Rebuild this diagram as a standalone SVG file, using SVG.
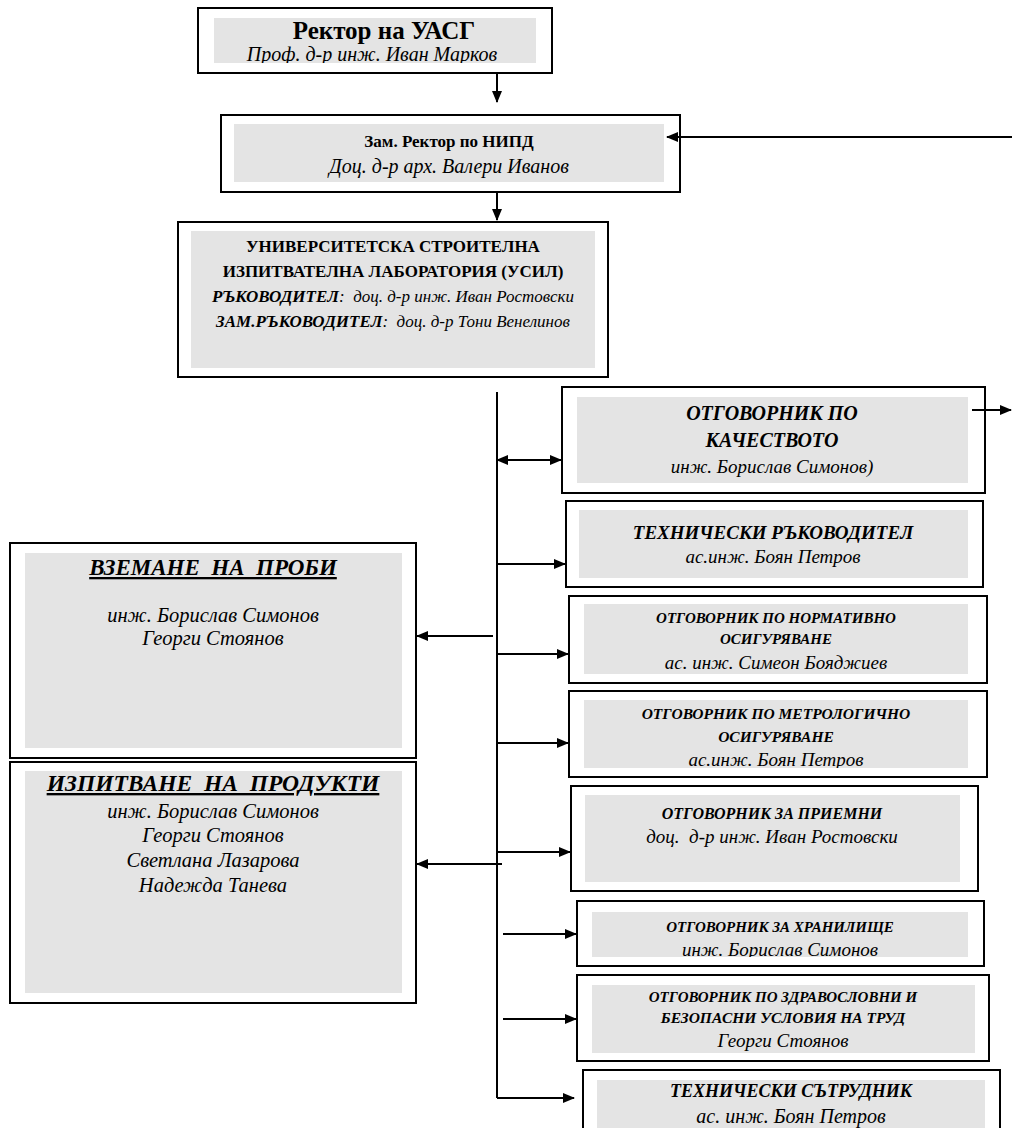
<svg xmlns="http://www.w3.org/2000/svg" width="1012" height="1128" viewBox="0 0 1012 1128">
<style>
.box{fill:#fff;stroke:#000;stroke-width:2}
.g{fill:#e4e4e4}
.t{font-family:"Liberation Serif","Times New Roman",serif;text-anchor:middle;fill:#000}
.b{font-weight:bold}
.i{font-style:italic}
.bi{font-weight:bold;font-style:italic}
.c{stroke:#000;stroke-width:2;fill:none}
.a{marker-end:url(#ah)}
</style>
<defs>
<marker id="ah" viewBox="0 0 12 10" refX="11" refY="5" markerWidth="12" markerHeight="10" markerUnits="userSpaceOnUse" orient="auto-start-reverse"><path d="M0,0 L12,5 L0,10 z" fill="#000"/></marker>
<clipPath id="cA"><rect x="214" y="18" width="322" height="45"/></clipPath>
<clipPath id="cG"><rect x="584" y="700" width="384" height="68"/></clipPath>
<clipPath id="cI"><rect x="592" y="912" width="376" height="45"/></clipPath>
</defs>
<rect width="1012" height="1128" fill="#fff"/>

<g id="rector">
<rect class="box" x="198" y="8" width="354" height="65"/>
<rect class="g" x="214" y="18" width="322" height="45"/>
<text class="t b" x="384" y="39" font-size="25">Ректор на УАСГ</text>
<text class="t i" x="372" y="61" font-size="20" clip-path="url(#cA)">Проф. д-р инж. Иван Марков</text>
</g>

<g id="zam-rektor">
<rect class="box" x="221" y="115" width="459" height="77"/>
<rect class="g" x="234" y="124" width="430" height="58"/>
<text class="t b" x="449" y="147" font-size="17">Зам. Ректор по НИПД</text>
<text class="t i" x="449" y="173" font-size="20">Доц. д-р арх. Валери Иванов</text>
</g>

<g id="usil">
<rect class="box" x="178" y="222" width="430" height="155"/>
<rect class="g" x="191" y="231" width="404" height="137"/>
<text class="t b" x="393" y="252" font-size="17">УНИВЕРСИТЕТСКА СТРОИТЕЛНА</text>
<text class="t b" x="393" y="277" font-size="17">ИЗПИТВАТЕЛНА ЛАБОРАТОРИЯ (УСИЛ)</text>
<text class="t" x="393" y="302" font-size="17"><tspan class="bi">РЪКОВОДИТЕЛ</tspan><tspan class="i">:&#160; доц. д-р инж. Иван Ростовски</tspan></text>
<text class="t" x="393" y="327" font-size="17"><tspan class="bi">ЗАМ.РЪКОВОДИТЕЛ</tspan><tspan class="i">:&#160; доц. д-р Тони Венелинов</tspan></text>
</g>

<g id="kachestvo">
<rect class="box" x="562" y="387" width="423" height="106"/>
<rect class="g" x="577" y="397" width="391" height="86"/>
<text class="t bi" x="772" y="420" font-size="20">ОТГОВОРНИК ПО</text>
<text class="t bi" x="772" y="447" font-size="20">КАЧЕСТВОТО</text>
<text class="t i" x="772" y="473" font-size="19">инж. Борислав Симонов)</text>
</g>

<g id="tehn-rakovoditel">
<rect class="box" x="566" y="501" width="417" height="86"/>
<rect class="g" x="579" y="510" width="389" height="68"/>
<text class="t bi" x="773" y="539" font-size="19">ТЕХНИЧЕСКИ РЪКОВОДИТЕЛ</text>
<text class="t i" x="773" y="563" font-size="19">ас.инж. Боян Петров</text>
</g>

<g id="normativno">
<rect class="box" x="569" y="596" width="418" height="87"/>
<rect class="g" x="584" y="604" width="384" height="70"/>
<text class="t bi" x="776" y="623" font-size="15">ОТГОВОРНИК ПО НОРМАТИВНО</text>
<text class="t bi" x="776" y="644" font-size="15">ОСИГУРЯВАНЕ</text>
<text class="t i" x="776" y="669" font-size="19">ас. инж. Симеон Бояджиев</text>
</g>

<g id="metrologichno">
<rect class="box" x="569" y="691" width="418" height="86"/>
<rect class="g" x="584" y="700" width="384" height="68"/>
<text class="t bi" x="776" y="719" font-size="15.5">ОТГОВОРНИК ПО МЕТРОЛОГИЧНО</text>
<text class="t bi" x="776" y="742" font-size="15.5">ОСИГУРЯВАНЕ</text>
<text class="t i" x="776" y="766" font-size="19" clip-path="url(#cG)">ас.инж. Боян Петров</text>
</g>

<g id="priemni">
<rect class="box" x="571" y="786" width="407" height="105"/>
<rect class="g" x="585" y="795" width="375" height="87"/>
<text class="t bi" x="772" y="819" font-size="16">ОТГОВОРНИК ЗА ПРИЕМНИ</text>
<text class="t i" x="772" y="843" font-size="19">доц.&#160; д-р инж. Иван Ростовски</text>
</g>

<g id="hranilishte">
<rect class="box" x="577" y="901" width="407" height="65"/>
<rect class="g" x="592" y="912" width="376" height="45"/>
<text class="t bi" x="780" y="932" font-size="15">ОТГОВОРНИК ЗА ХРАНИЛИЩЕ</text>
<text class="t i" x="780" y="956" font-size="19" clip-path="url(#cI)">инж. Борислав Симонов</text>
</g>

<g id="zbut">
<rect class="box" x="577" y="975" width="412" height="86"/>
<rect class="g" x="592" y="985" width="383" height="68"/>
<text class="t bi" x="783" y="1002" font-size="15">ОТГОВОРНИК ПО ЗДРАВОСЛОВНИ И</text>
<text class="t bi" x="783" y="1023" font-size="15.5">БЕЗОПАСНИ УСЛОВИЯ НА ТРУД</text>
<text class="t i" x="783" y="1047" font-size="19">Георги Стоянов</text>
</g>

<g id="tehn-satrudnik">
<rect class="box" x="583" y="1070" width="417" height="70"/>
<rect class="g" x="597" y="1080" width="388" height="52"/>
<text class="t bi" x="791" y="1097" font-size="18">ТЕХНИЧЕСКИ СЪТРУДНИК</text>
<text class="t i" x="791" y="1123" font-size="20">ас. инж. Боян Петров</text>
</g>

<g id="vzemane">
<rect class="box" x="10" y="543" width="406" height="215"/>
<rect class="g" x="25" y="553" width="377" height="195"/>
<text class="t bi" x="213" y="575" font-size="23" text-decoration="underline">ВЗЕМАНЕ&#160; НА&#160; ПРОБИ</text>
<text class="t i" x="213" y="622" font-size="20.5">инж. Борислав Симонов</text>
<text class="t i" x="213" y="645" font-size="20.5">Георги Стоянов</text>
</g>

<g id="izpitvane">
<rect class="box" x="10" y="762" width="406" height="241"/>
<rect class="g" x="25" y="771" width="377" height="222"/>
<text class="t bi" x="213" y="791" font-size="23.5" text-decoration="underline">ИЗПИТВАНЕ&#160; НА&#160; ПРОДУКТИ</text>
<text class="t i" x="213" y="818" font-size="20.5">инж. Борислав Симонов</text>
<text class="t i" x="213" y="842" font-size="20.5">Георги Стоянов</text>
<text class="t i" x="213" y="867" font-size="20.5">Светлана Лазарова</text>
<text class="t i" x="213" y="892" font-size="20.5">Надежда Танева</text>
</g>

<g id="connectors">
<path class="c a" d="M497,73 V102"/>
<path class="c a" d="M1012,137 H667"/>
<path class="c a" d="M497,192 V220"/>
<path class="c" d="M497,392 V1098"/>
<path class="c a" d="M497,1098 H574"/>
<path class="c a" d="M497,460 H561" style="marker-start:url(#ah)"/>
<path class="c a" d="M972,410 H1011"/>
<path class="c a" d="M497,564 H565"/>
<path class="c a" d="M497,654 H568"/>
<path class="c a" d="M497,743 H568"/>
<path class="c a" d="M497,852 H570"/>
<path class="c a" d="M503,934 H576"/>
<path class="c a" d="M503,1019 H576"/>
<path class="c a" d="M493,636 H417"/>
<path class="c a" d="M502,864 H417"/>
</g>
</svg>
